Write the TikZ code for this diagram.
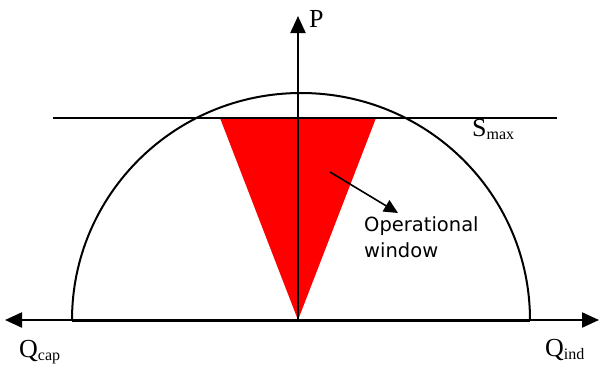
\documentclass[tikz,border=0pt]{standalone}
\usepackage{fontspec}
\setmainfont{Liberation Serif}
\newfontfamily\labfont{DejaVu Sans}
\usetikzlibrary{arrows.meta}
\begin{document}
\begin{tikzpicture}[x=1pt,y=-1pt,
  axis/.style={line width=2.2pt,-{Triangle[length=17pt,width=15pt]}},
  thin/.style={line width=2pt},
  lab/.style={font=\fontsize{26}{28}\selectfont,inner sep=0pt,anchor=south west}]
\useasboundingbox (0,0) rectangle (600,372);
\coordinate (O) at (298,320);
\coordinate (L) at (72,320);
\coordinate (R) at (530,320);
\coordinate (A) at (220,118);
\coordinate (B) at (376,118);
\coordinate (Pt) at (298,16);
\coordinate (Xl) at (5,320);
\coordinate (Xr) at (599,320);
\coordinate (Sl) at (53,118);
\coordinate (Sr) at (557,118);
% red window
\fill[red] (O) -- (A) -- (B) -- cycle;
% semicircle
\draw[thin] (L) arc[start angle=180,end angle=0,x radius=229,y radius=-227];
% Smax line
\draw[line width=2.4pt] (Sl) -- (Sr);
% axes
\draw[axis] (O) -- (Xl);
\draw[axis] (O) -- (Xr);
\draw[line width=3pt] (L) -- (R);
\draw[axis] (O) -- (Pt);
% labels
\node[lab] (P) at (309,28) {P};
\node[lab] (Qc) at (19,364) {Q\raisebox{-3pt}{\fontsize{16}{16}\selectfont cap}};
\node[lab] (Qi) at (545,361) {Q\raisebox{-3pt}{\fontsize{16}{16}\selectfont ind}};
\node[lab] (S) at (472,140) {S\raisebox{-3pt}{\fontsize{16}{16}\selectfont max}};
\node[font=\labfont\fontsize{19.5}{26}\selectfont,align=left,anchor=north west,inner sep=0pt] (W) at (364,216) {Operational\\window};
\coordinate (Ws) at (330,172);
\coordinate (Wt) at (398,213);
\draw[line width=1.6pt,-{Triangle[length=14pt,width=13pt]}] (Ws) -- (Wt);
\end{tikzpicture}
\end{document}
